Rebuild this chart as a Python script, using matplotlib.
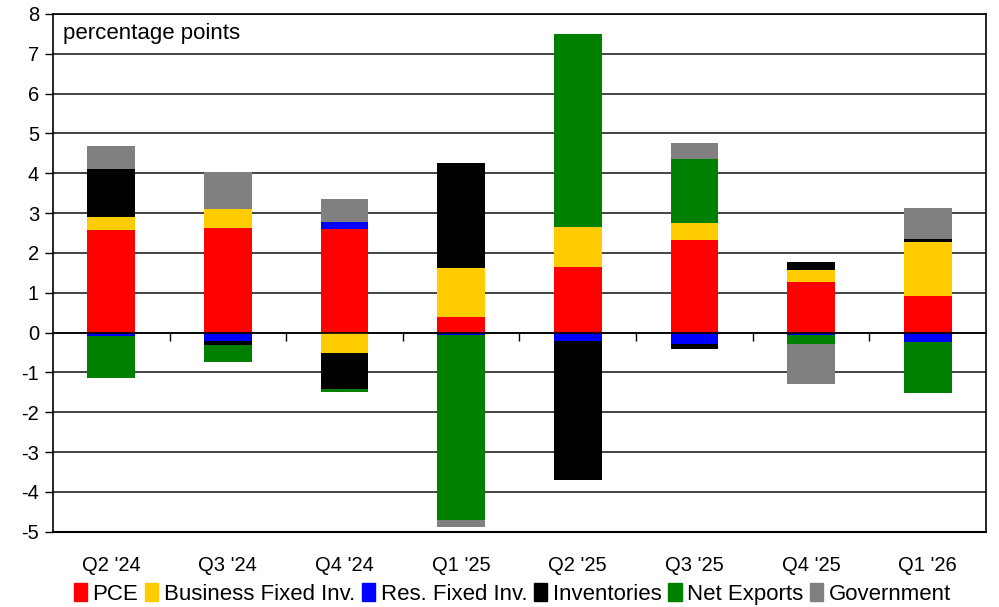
import numpy as np
import matplotlib.pyplot as plt
from matplotlib.patches import Patch
import matplotlib.transforms as mtransforms

plt.rcParams['font.family'] = ['Liberation Sans', 'DejaVu Sans']
plt.rcParams['axes.unicode_minus'] = False

quarters = ["Q2 '24", "Q3 '24", "Q4 '24", "Q1 '25", "Q2 '25", "Q3 '25", "Q4 '25", "Q1 '26"]

pce = [2.57, 2.63, 2.61, 0.39, 1.64, 2.32, 1.26, 0.92]
bfi = [0.34, 0.47, -0.51, 1.23, 1.00, 0.43, 0.32, 1.36]
res = [-0.08, -0.21, 0.17, -0.06, -0.21, -0.29, -0.06, -0.23]
inv = [1.19, -0.11, -0.90, 2.63, -3.48, -0.13, 0.18, 0.07]
netx = [-1.07, -0.43, -0.08, -4.64, 4.85, 1.61, -0.23, -1.28]
gov = [0.59, 0.93, 0.58, -0.19, 0.00, 0.40, -1.01, 0.77]

series = ['PCE', 'Business Fixed Inv.', 'Res. Fixed Inv.', 'Inventories',
          'Net Exports', 'Government']
colors = ['#ff0000', '#ffcc00', '#0000ff', '#000000', '#008000', '#808080']
data = np.array([pce, bfi, res, inv, netx, gov])

fig = plt.figure(figsize=(9.99, 6.07), dpi=100)
ax = fig.add_axes([0.053, 0.124, 0.934, 0.853])

x = np.arange(len(quarters))
pos_base = np.zeros(len(quarters))
neg_base = np.zeros(len(quarters))
for vals, col in zip(data, colors):
    pos = np.where(vals > 0, vals, 0)
    neg = np.where(vals < 0, vals, 0)
    ax.bar(x, pos, 0.41, bottom=pos_base, color=col, zorder=3)
    ax.bar(x, neg, 0.41, bottom=neg_base, color=col, zorder=3)
    pos_base += pos
    neg_base += neg

ax.set_xlim(-0.5, len(quarters) - 0.5)
ax.set_ylim(-5, 8)
ax.set_yticks(range(-5, 9))
ax.tick_params(axis='y', labelsize=14.5, length=6, width=1, direction='out', pad=4)
ax.yaxis.grid(True, color='#222222', linewidth=1.2, zorder=0)
ax.set_axisbelow(True)

# category axis sits on the zero line, ticks between categories
ax.spines['bottom'].set_position(('data', 0))
ax.spines['bottom'].set_zorder(4)
ax.set_xticks(np.arange(0.5, len(quarters) - 0.5, 1))
ax.set_xticklabels([])
ax.tick_params(axis='x', length=6, width=1, direction='out')
for s in ['left', 'right', 'top', 'bottom']:
    ax.spines[s].set_linewidth(1.2)
ax.axhline(-5, color='black', linewidth=1.5, zorder=4, clip_on=False)

trans = mtransforms.blended_transform_factory(ax.transData, ax.transAxes)
for xi, q in zip(x, quarters):
    ax.text(xi, -0.065, q, transform=trans, ha='center', va='center', fontsize=14.5)

ax.text(0.011, 0.962, 'percentage points', transform=ax.transAxes,
        ha='left', va='center', fontsize=16)

handles = [Patch(color=c, label=s) for c, s in zip(colors, series)]
fig.legend(handles=handles, loc='center', bbox_to_anchor=(0.513, 0.021), ncol=6,
           frameon=False, fontsize=16, handlelength=0.6, handleheight=0.85,
           handletextpad=0.25, columnspacing=0.3, borderpad=0)

fig.savefig('out.png', dpi=100)
